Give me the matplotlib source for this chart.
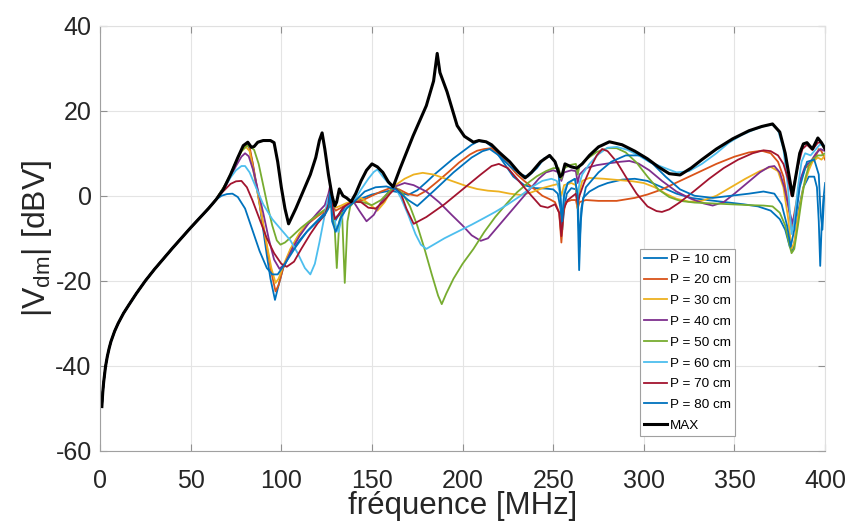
import numpy as np
import matplotlib.pyplot as plt

plt.rcParams['font.family'] = 'Liberation Sans'
plt.rcParams['axes.unicode_minus'] = False
plt.rcParams['mathtext.fontset'] = 'custom'
plt.rcParams['mathtext.rm'] = 'Liberation Sans'

# common low-frequency part (MHz, dBV)
base = [(1, -49.6), (1.5, -46.2), (2, -43.8), (3, -40.2), (4, -37.8), (5, -35.9), (6, -34.3),
        (8, -31.9), (10, -30.0), (13, -27.6), (16, -25.6), (20, -23.0), (25, -20.0), (30, -17.3),
        (35, -14.8), (40, -12.3), (45, -9.9), (50, -7.5), (55, -5.2), (60, -2.9), (64, -0.9)]

p10 = base + [(66, 0.5), (69, 2.5), (72, 5), (75, 8), (78, 10.8), (80.5, 12.2), (82, 11.8), (84, 8),
    (86, 3), (88, -2), (90, -8), (92, -14), (94, -19.5), (96.5, -24.5), (98.5, -21), (101, -17),
    (105, -13.5), (110, -10.5), (115, -8), (120, -5.8), (124, -4), (126, -2.5), (127, 1), (128, -3),
    (129, -6.5), (131, -5), (134, -3.5), (137, -2.2), (140, -1.5), (145, -0.5), (150, 0.3), (155, 0.8),
    (160, 1.2), (165, 0.8), (170, 0.2), (175, 1.3), (180, 3.2), (185, 5.2), (190, 7), (195, 8.8),
    (200, 10.4), (205, 12), (209, 12.9), (213, 12.6), (217, 11.2), (222, 8.2), (228, 4.5), (234, 2.5),
    (240, 1.8), (246, 1.7), (250, 1.5), (252.5, 0.5), (254, -3), (255, -8), (256, -3), (257.5, 0.5),
    (260, 1.8), (262.5, 1.5), (263.5, -3), (264.3, -17.5), (265.2, -6), (266.5, -0.5), (270, 1),
    (275, 2.2), (280, 3), (288, 3.8), (295, 4), (302, 3.5), (310, 2), (318, 0.5), (326, -0.5),
    (335, -1), (345, -1.5), (355, -2), (363, -2.5), (370, -3.5), (375, -5.5), (378, -8), (380.5, -12),
    (382, -13), (383.5, -10), (385.5, -3), (388, 2), (391, 4.5), (394, 4.5), (395.5, 2), (396.5, -6),
    (397.3, -16.5), (398, -8), (399, -1), (400, 3)]

p20 = base + [(66, 0.5), (69, 2.5), (72, 5), (75, 8), (78, 10.8), (80.5, 12), (82.5, 11.5),
    (84.5, 7), (87, 1), (89.5, -5.5), (92, -12), (94.5, -18), (96.8, -22.5), (98.5, -21), (101, -17),
    (105, -12.8), (110, -9), (115, -6.5), (120, -4.8), (124, -3.6), (126, -2.5), (127.2, 1.5),
    (128.3, -2.5), (130, -3.5), (133, -2.8), (136, -2), (140, -1.5), (145, -1), (150, 0), (155, 1),
    (160, 1.8), (165, 1.5), (170, 0.4), (175, 0), (180, 1.2), (186, 3.3), (192, 5.5), (198, 7.8),
    (204, 9.7), (208, 10.6), (212, 11), (216, 11.2), (220, 9.8), (225, 7.5), (230, 5), (234, 3.5),
    (239, 1.8), (244, 0), (248, -0.8), (251, -1.5), (253.3, -4), (254.5, -11), (255.7, -4),
    (257, -1.5), (260, -1), (262.5, -1), (263.5, -3), (264.5, -1.5), (268, -1), (275, -1.2),
    (285, -1.2), (295, -0.5), (302, 0.3), (310, 1.5), (320, 3.5), (330, 5.5), (340, 7.5), (350, 9.2),
    (358, 10.2), (365, 10.6), (370, 10), (374, 8), (377, 4.5), (379.5, -1.5), (381.5, -8),
    (383.5, -3), (386, 3), (389, 6.5), (392, 7.5), (394.5, 9), (396.5, 11), (398, 10.5), (400, 8.5)]

p30 = base + [(66, 0.5), (69, 2.5), (72, 5), (75, 8), (78, 10.5), (80.5, 11.5), (82.5, 10.5),
    (84.5, 6), (87, 0.5), (89.5, -5.5), (92, -11.5), (94.5, -17), (96.8, -20.5), (98.5, -19.5),
    (101, -16.5), (105, -12.5), (110, -8.8), (115, -6.2), (120, -4.5), (124, -3.3), (126, -2.3),
    (127.3, 1), (128.4, -2), (130, -2.8), (133, -2.3), (136, -1.7), (140, -1.3), (144, -0.5),
    (148, -1.8), (153, -3.5), (157, -1.5), (160, 0.8), (163, 2.5), (168, 4), (173, 5), (178, 5.4),
    (184, 5), (190, 4.1), (196, 3.2), (202, 2.3), (208, 1.6), (214, 1.2), (220, 1), (226, 0.5),
    (232, 0.2), (238, 0.8), (244, 1.8), (250, 2.5), (253, 2.8), (254.5, 0), (256, 2.5), (260, 3),
    (262.5, 2.5), (263.5, -3), (264.5, 1), (266, 3.5), (270, 4.2), (278, 4), (286, 3.7), (294, 3.4),
    (300, 3.0), (306, 2), (312, 0.5), (318, -0.7), (325, -1.4), (332, -1.2), (340, 0), (348, 2),
    (356, 4), (364, 5.8), (370, 6.8), (374, 5.8), (377, 2), (379.5, -5), (381.5, -12.5), (383, -11),
    (385, -5), (388, 2), (391, 6), (393, 8), (396, 9), (398, 8.5), (400, 9.5)]

p40 = base + [(66, 0.3), (69, 2), (72, 4.5), (75, 7), (78, 9.2), (80, 10), (82, 9.3), (84.5, 6),
    (87, 1.5), (90, -4), (93, -10), (96, -15), (99, -17.2), (102, -16), (106, -12.5), (110, -9.5),
    (115, -6.5), (120, -4), (124, -2.2), (126, 0.5), (127, 2.5), (128, -1), (129.5, -5.5),
    (131.5, -4.5), (134, -3), (137, -2), (140, -1.5), (143, -3.5), (147, -6), (151, -4.5),
    (155, -1.5), (159, 0.8), (163, 2.2), (168, 3), (173, 2.5), (180, 1), (187, -1.5), (194, -4.5),
    (200, -7), (205, -9.3), (210, -10.6), (214, -10), (219, -7.5), (225, -4.5), (231, -1.5),
    (237, 1.5), (242, 4), (246, 5.5), (250, 6), (253, 5.5), (254.5, 3.5), (256, 5.5), (260, 6),
    (262.5, 5.8), (263.5, 3), (264.5, 5), (268, 6.5), (274, 7.2), (280, 7.6), (287, 8), (292, 8.2),
    (297, 7.6), (303, 6), (310, 3.5), (318, 1), (326, -0.7), (333, -1.8), (338, -2.3), (344, -1.5),
    (350, 0.5), (357, 3), (364, 5.5), (369, 6.8), (372, 7), (375, 5.5), (377.5, 2), (380, -3),
    (382, -6.5), (384, -3), (386.5, 4), (389, 7), (392, 8), (395, 10), (397.5, 11), (400, 10.5)]

p50 = base + [(66, 0.5), (69, 2.5), (72, 5), (75, 8), (78, 10.5), (81, 11.8), (83, 11.5),
    (85, 10.8), (87.5, 7.5), (90, 2.5), (92.5, -2.5), (95, -7), (97.5, -10.5), (99.5, -11.5),
    (102, -11), (106, -9.5), (111, -7.5), (116, -5.8), (121, -4.2), (125, -3), (127.5, -2.4),
    (129, -4), (130.6, -17), (132, -6), (133.5, -4), (135, -20.5), (136.5, -6), (138, -2.5),
    (140, -1.5), (145, -1.5), (150, -2.2), (155, -1), (160, 1.2), (163, 2), (167, 0.5), (171, -2.5),
    (175, -7), (179, -12.5), (183, -18.5), (186.5, -23.5), (188.5, -25.5), (191, -23), (195, -19.5),
    (200, -16), (206, -12.5), (212, -8.5), (218, -5), (224, -2), (230, 0.8), (236, 3), (241, 4.6),
    (246, 5.8), (250, 6.5), (253, 6.5), (254.5, 4), (256, 6.5), (260, 7.3), (262.5, 7.5),
    (263.5, 5), (264.5, 7), (268, 8.5), (274, 10.3), (280, 11.2), (285, 11.2), (290, 10.2),
    (296, 7.8), (302, 4.5), (308, 1.5), (314, -0.3), (320, -1.2), (328, -1.6), (338, -1.8),
    (348, -2), (358, -2.2), (366, -2.3), (371, -2.5), (375, -4), (378, -7), (380, -11),
    (381.5, -13.5), (383, -12.5), (385, -7), (387, -1), (389, 4), (391, 7), (393, 8.5), (396, 9.5),
    (398, 9.5), (400, 10)]

p60 = base + [(66, 0.4), (69, 2.3), (72, 4.3), (75, 6), (78, 7), (80, 7), (82.5, 5.5), (86, 2),
    (90, -2), (95, -5.5), (100, -8), (105, -10.5), (109, -13.5), (113, -17), (116, -18.5),
    (118.5, -16), (121, -11), (123.5, -5.5), (125.5, -1), (127, 1), (128.5, -3), (130, -7),
    (131.5, -8.5), (133.5, -5), (136, -2.5), (140, -1.3), (144, 1.5), (148, 4), (151, 5.6),
    (153, 6.2), (156, 4.5), (159, 3), (161, 2.3), (163, 1.8), (166, -0.5), (170, -4.5), (174, -9),
    (177, -11.5), (180, -12.5), (184, -11.5), (190, -10), (197, -8.5), (205, -6.8), (212, -5.2),
    (218, -3.8), (225, -2), (232, 0), (238, 2), (244, 3.5), (249, 4), (252, 3.5), (254, 0),
    (255, -5), (256, 1), (258, 3), (262, 4), (263.5, 0), (264.5, 3), (266, 5), (270, 7.5),
    (275, 9.8), (280, 11.3), (285, 11.5), (291, 10.8), (297, 9.5), (303, 8), (310, 6.8), (318, 5.5),
    (325, 5.8), (332, 7.5), (340, 10), (347, 12.5), (354, 14.3), (361, 15.6), (367, 16.5),
    (371, 16.7), (374, 15.5), (377, 11), (379.5, 2), (381.5, -9), (383, -6), (385, 2), (387, 8),
    (389, 10), (392, 9.5), (395, 11), (397, 12), (399, 12), (400, 11.5)]

p70 = base + [(66, 0.2), (69, 1.5), (72, 2.8), (75, 3.4), (78, 3.5), (81, 2), (84, -1), (88, -5.5),
    (92, -10), (96, -13.5), (100, -16), (103, -16.7), (107, -15.5), (111, -12.5), (116, -9),
    (120, -6.5), (124, -4.5), (126, -2), (127, 2), (128, -2), (129.5, -5.5), (131.5, -4.5),
    (134, -2.8), (137, -1.9), (140, -1.4), (144, -1.5), (148, -2.8), (152, -3), (156, -1.5),
    (160, 0.5), (163, 1.8), (166, 0.5), (169, -3), (173, -6.6), (180, -5), (190, -2), (200, 1.5),
    (210, 5), (216, 7), (220, 7.5), (225, 6.5), (232, 3), (238, 0), (243, -2.4), (247, -2.8),
    (251, -2), (253.3, -4), (254.5, -9.5), (255.8, -3), (258, -1), (261, 0), (262.5, 0.5),
    (263.5, -2), (264.5, 0), (267, 3), (271, 7), (274, 9.5), (277, 11), (280, 10.5), (285, 8),
    (290, 4.5), (296, 0.5), (302, -2.5), (307, -3.6), (310, -3.8), (314, -3.2), (320, -1.5),
    (328, 1.2), (336, 4), (344, 6.5), (352, 8.5), (360, 10), (366, 10.7), (370, 10.5), (374, 9.5),
    (377, 7.5), (379.5, 4), (381.5, 0), (383, 3), (385, 7), (387.5, 11), (390, 12), (393, 10.8),
    (396, 12.5), (398, 12.5), (400, 11)]

p80 = base + [(67, 0), (70, 0.4), (73, 0.5), (76, -0.3), (80, -3), (84, -8), (88, -13), (92, -17),
    (95, -18.5), (98, -18.5), (102, -16), (108, -12), (114, -8.5), (120, -6), (124, -4.5),
    (126, -3), (127, 1), (128, -6), (130, -8.5), (133, -5), (136, -3), (140, -1.5), (146, 1),
    (152, 2), (158, 2.2), (163, 1.5), (170, -1), (175, -2.4), (185, 1.5), (195, 5.5), (205, 9),
    (211, 10.5), (215, 11), (220, 9.5), (226, 7), (232, 5), (236, 4.5), (241, 6.5), (245, 8.8),
    (248, 9.3), (251, 8), (253, 5), (254.3, -2), (255, -6), (256, 0), (258, 3), (262, 4),
    (263.5, 0), (264.5, -12), (265.5, -3), (268, 2), (275, 5.5), (282, 8), (290, 9.5), (298, 9.5),
    (305, 7.5), (312, 4.5), (320, 1.5), (328, 0), (338, -0.5), (348, 0), (358, 0.5), (366, 1),
    (372, 0.5), (376, -2), (379, -7), (381, -12), (383, -8), (386, 2), (390, 8), (394, 8.5),
    (396.5, 5), (397.5, -4), (398.5, -8), (399.5, 0)]

pmax = base + [(68, 1.5), (72, 5), (76, 9), (79, 11.8), (81.5, 12.6), (83.5, 11.4), (85, 11.6),
    (87, 12.6), (90, 13.0), (94, 13.0), (96, 12.5), (98, 8), (100, 2), (102, -3), (104, -6.6),
    (108, -3), (112, 1), (116, 5), (119, 9), (121, 13), (122.5, 14.8), (124, 11), (126, 5),
    (128, 0), (129.5, -2.4), (130.5, -1.5), (132, 1.6), (134, 0), (136, -0.5), (138.5, -1.4),
    (141, 0.5), (144, 3.5), (147, 6), (150, 7.5), (153, 6.8), (156, 5.5), (159, 3.3), (161.7, 2.1),
    (165.5, 6.4), (172.7, 14.1), (180, 21.2), (184, 27), (186, 33.5), (187.5, 29), (191.4, 24.5),
    (197, 16.5), (201, 14), (206, 12.6), (209, 13), (213, 12.7), (216, 12), (220, 10.3), (226, 8),
    (231, 5.5), (234.5, 4.2), (238, 5.5), (243, 8), (248, 9.5), (251, 8), (253.8, 4.5), (255, 5),
    (256.5, 7.5), (260, 6.8), (263, 6.5), (266, 7.5), (270, 9.5), (275, 11.5), (281, 12.7),
    (288, 12), (295, 10.5), (302, 8.7), (308, 6.8), (314, 5.2), (320, 4.9), (326, 6.5), (332, 8.5),
    (340, 11), (349, 13.4), (358, 15.3), (365, 16.3), (371, 16.9), (375, 15), (378, 10), (380, 5),
    (382, 0), (384, 5), (386, 10), (388, 12.2), (390, 12.5), (393, 11), (396, 13.6), (398, 12.5),
    (400, 11)]

labels = ['P = 10 cm', 'P = 20 cm', 'P = 30 cm', 'P = 40 cm', 'P = 50 cm', 'P = 60 cm',
          'P = 70 cm', 'P = 80 cm', 'MAX']
colors = ['#0072BD', '#D95319', '#EDB120', '#7E2F8E', '#77AC30', '#4DBEEE', '#A2142F',
          '#0072BD', 'black']
curves = [p10, p20, p30, p40, p50, p60, p70, p80, pmax]

fig, ax = plt.subplots(figsize=(8.48, 5.26), dpi=100)
fig.subplots_adjust(left=0.118, right=0.973, bottom=0.143, top=0.951)

for pts, lab, col in zip(curves, labels, colors):
    f, v = np.array(pts).T
    lw = 2.2 if lab == 'MAX' else 1.3
    ax.plot(f, v, color=col, lw=lw, label=lab)

ax.set_xlim(0, 400)
ax.set_ylim(-60, 40)
ax.set_xticks(range(0, 401, 50))
ax.set_yticks(range(-60, 41, 20))
ax.grid(True, color='#e4e4e4', lw=0.8)
ax.set_axisbelow(True)
ax.tick_params(direction='in', length=5, top=True, right=True, color='#909090',
               labelcolor='#262626', labelsize=18)
ax.tick_params(axis='x', pad=13)
ax.tick_params(axis='y', pad=6)
for side in ['left', 'bottom']:
    ax.spines[side].set_color('#a0a0a0')
for side in ['top', 'right']:
    ax.spines[side].set_color('#e0e0e0')

ax.set_xlabel('fréquence [MHz]', fontsize=22.5, color='#262626', labelpad=-1)
ax.set_ylabel(r'|V$_{\rm dm}$| [dBV]', fontsize=23, color='#262626', labelpad=1)

leg = ax.legend(loc='lower left', bbox_to_anchor=(0.745, 0.035), borderaxespad=0, fontsize=9.7,
                handlelength=1.7, handletextpad=0.2, labelspacing=0.62, borderpad=0.3,
                fancybox=False, framealpha=1, edgecolor='#a0a0a0')
leg.get_frame().set_linewidth(0.8)

plt.savefig('out.png', dpi=100)
